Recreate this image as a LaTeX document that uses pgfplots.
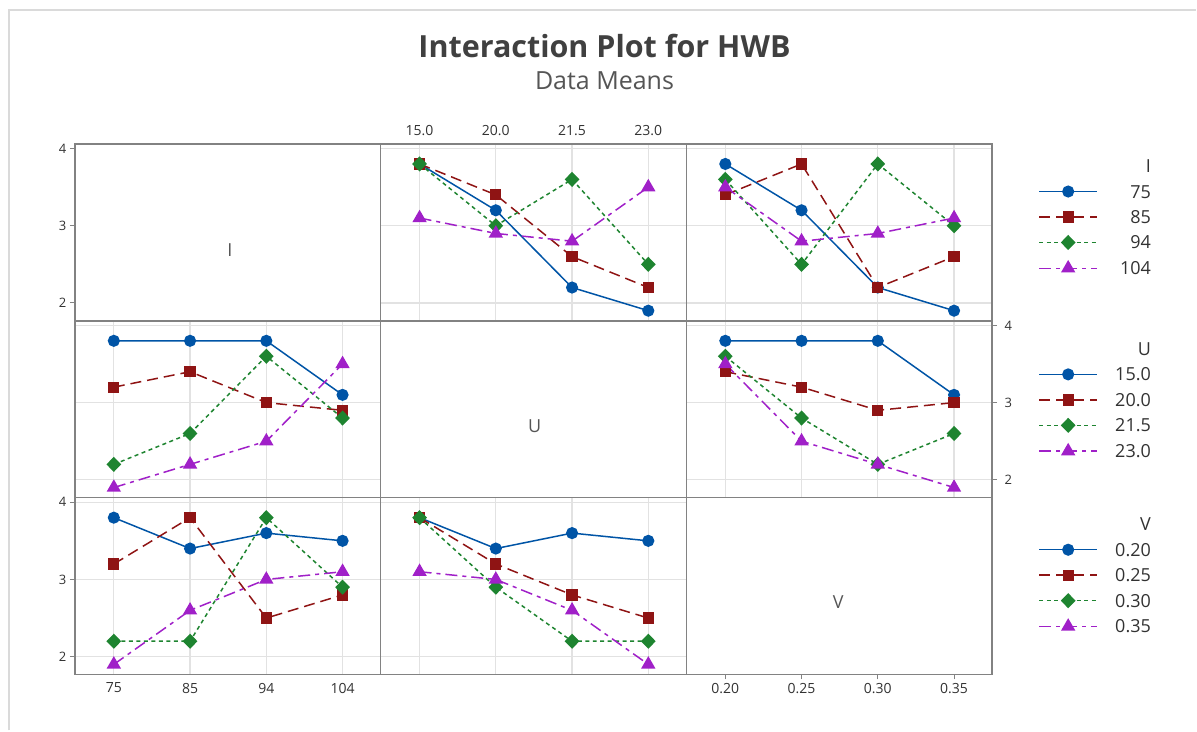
\documentclass[border=0pt]{standalone}
\usepackage{pgfplots}
\usepackage{pgfplotstable}
\pgfplotsset{compat=1.18}
\usepackage{fontspec}
\setmainfont{Open Sans}
\definecolor{cBlue}{RGB}{0,84,166}
\definecolor{cRed}{RGB}{143,20,20}
\definecolor{cGreen}{RGB}{30,132,48}
\definecolor{cPurple}{RGB}{160,32,200}
\definecolor{frameGray}{RGB}{130,130,130}
\definecolor{gridGray}{RGB}{226,226,226}
\definecolor{txtGray}{RGB}{50,50,50}
\definecolor{lblGray}{RGB}{85,85,85}
\definecolor{titleGray}{RGB}{64,64,64}
\definecolor{borderGray}{RGB}{218,218,218}

% x = level index of the horizontal factor; a,b,c,d = levels of the trace factor
\pgfplotstableread{
x a b c d
0 3.8 3.8 3.8 3.1
1 3.2 3.4 3.0 2.9
2 2.2 2.6 3.6 2.8
3 1.9 2.2 2.5 3.5
}\tIonU
\pgfplotstableread{
x a b c d
0 3.8 3.4 3.6 3.5
1 3.2 3.8 2.5 2.8
2 2.2 2.2 3.8 2.9
3 1.9 2.6 3.0 3.1
}\tIonV
\pgfplotstableread{
x a b c d
0 3.8 3.2 2.2 1.9
1 3.8 3.4 2.6 2.2
2 3.8 3.0 3.6 2.5
3 3.1 2.9 2.8 3.5
}\tUonI
\pgfplotstableread{
x a b c d
0 3.8 3.4 3.6 3.5
1 3.8 3.2 2.8 2.5
2 3.8 2.9 2.2 2.2
3 3.1 3.0 2.6 1.9
}\tUonV
\pgfplotstableread{
x a b c d
0 3.8 3.2 2.2 1.9
1 3.4 3.8 2.2 2.6
2 3.6 2.5 3.8 3.0
3 3.5 2.8 2.9 3.1
}\tVonI
\pgfplotstableread{
x a b c d
0 3.8 3.8 3.8 3.1
1 3.4 3.2 2.9 3.0
2 3.6 2.8 2.2 2.6
3 3.5 2.5 2.2 1.9
}\tVonU

\pgfplotsset{
  sA/.style={draw=cBlue, solid, line width=1.5pt, mark=*, mark size=5.3pt, mark options={solid, fill=cBlue, draw=cBlue}},
  sB/.style={draw=cRed, dash pattern=on 11pt off 6pt, line width=1.5pt, mark=square*, mark size=4.9pt, mark options={solid, fill=cRed, draw=cRed}},
  sC/.style={draw=cGreen, dash pattern=on 4pt off 3.5pt, line width=1.5pt, mark=diamond*, mark size=6.5pt, mark options={solid, fill=cGreen, draw=cGreen, xscale=1.3}},
  sD/.style={draw=cPurple, dash pattern=on 12pt off 5pt on 4pt off 5pt, line width=1.5pt, mark=triangle*, mark size=6.8pt, mark options={solid, fill=cPurple, draw=cPurple}},
  panel/.style={
    scale only axis, width=306pt, height=177pt, anchor=south west,
    xmin=-0.51, xmax=3.5, ymin=1.77, ymax=4.06,
    xtick={0,1,2,3}, ytick={2,3,4},
    xticklabels={}, yticklabels={},
    axis line style={draw=frameGray, line width=1.6pt},
    major grid style={draw=gridGray, line width=1.2pt},
    xmajorgrids, ymajorgrids,
    tick align=outside, major tick length=5pt,
    xtick style={draw=none}, ytick style={draw=none},
    xticklabel style={font=\fontsize{14}{16}\selectfont, text=txtGray},
    yticklabel style={font=\fontsize{13}{15}\selectfont, text=txtGray},
    clip=false,
  },
  nogrid/.style={xmajorgrids=false, ymajorgrids=false},
  leftlab/.style={ytick pos=left, yticklabels={2,3,4}, ytick style={draw=frameGray, line width=1pt}},
  legax/.style={
    at={(0pt,0pt)}, anchor=south west, scale only axis, width=1197pt, height=731pt,
    xmin=0, xmax=1, ymin=0, ymax=1, hide axis,
    legend image code/.code={\draw[mark repeat=2,mark phase=2,##1] plot coordinates {(0pt,0pt) (29pt,0pt) (58pt,0pt)};},
    legend style={draw=none, fill=none, anchor=north east, inner sep=0pt,
      row sep=12.5pt, column sep=8pt,
      font=\fontsize{18}{20}\selectfont,
      nodes={inner sep=0pt, text height=13pt, text depth=0pt, text=txtGray}},
  },
}

\newcommand{\fourlines}[1]{%
  \addplot[sA] table[x=x,y=a] {#1};
  \addplot[sB] table[x=x,y=b] {#1};
  \addplot[sC] table[x=x,y=c] {#1};
  \addplot[sD] table[x=x,y=d] {#1};
}

\begin{document}
\begin{tikzpicture}[x=1pt,y=1pt]
\path (0,0) rectangle (1197,731);
\draw[borderGray, line width=2pt] (9,0) -- (9,721) -- (1197,721);

\node[font=\fontsize{30.5}{34}\selectfont\bfseries, text=titleGray, anchor=base] at (605,673) {Interaction Plot for HWB};
\node[font=\fontsize{25}{28}\selectfont, text=lblGray, anchor=base] at (605,641) {Data Means};

% Row 1
\begin{axis}[panel, nogrid, leftlab, at={(75pt,410pt)}]
\end{axis}
\begin{axis}[panel, at={(381pt,410pt)}, xticklabel pos=upper, xticklabels={15.0,20.0,21.5,23.0}]
\fourlines{\tIonU}
\end{axis}
\begin{axis}[panel, at={(687pt,410pt)}]
\fourlines{\tIonV}
\end{axis}

% Row 2
\begin{axis}[panel, at={(75pt,233pt)}]
\fourlines{\tUonI}
\end{axis}
\begin{axis}[panel, nogrid, at={(381pt,233pt)}]
\end{axis}
\begin{axis}[panel, at={(687pt,233pt)}, ytick pos=right, yticklabel pos=right, yticklabels={2,3,4},
  ytick style={draw=frameGray, line width=1pt}, yticklabel style={xshift=4pt}]
\fourlines{\tUonV}
\end{axis}

% Row 3
\begin{axis}[panel, leftlab, at={(75pt,56pt)}, xticklabels={75,85,94,104}]
\fourlines{\tVonI}
\end{axis}
\begin{axis}[panel, at={(381pt,56pt)}]
\fourlines{\tVonU}
\end{axis}
\begin{axis}[panel, nogrid, at={(687pt,56pt)}, xtick pos=lower, xticklabels={0.20,0.25,0.30,0.35},
  xtick style={draw=frameGray, line width=1pt}]
\end{axis}

\node[font=\fontsize{18}{20}\selectfont, text=lblGray] at (230,481) {I};
\node[font=\fontsize{18}{20}\selectfont, text=lblGray] at (535,304) {U};
\node[font=\fontsize{18}{20}\selectfont, text=lblGray] at (839,128) {V};

% Legends
\begin{axis}[legax, legend style={at={(0.96241,0.78181)}}]
\addlegendimage{empty legend}\addlegendentry{\makebox[45pt][r]{I}}
\addlegendimage{sA}\addlegendentry{\makebox[45pt][r]{75}}
\addlegendimage{sB}\addlegendentry{\makebox[45pt][r]{85}}
\addlegendimage{sC}\addlegendentry{\makebox[45pt][r]{94}}
\addlegendimage{sD}\addlegendentry{\makebox[45pt][r]{104}}
\end{axis}
\begin{axis}[legax, legend style={at={(0.96241,0.53147)}}]
\addlegendimage{empty legend}\addlegendentry{\makebox[45pt][r]{U}}
\addlegendimage{sA}\addlegendentry{\makebox[45pt][r]{15.0}}
\addlegendimage{sB}\addlegendentry{\makebox[45pt][r]{20.0}}
\addlegendimage{sC}\addlegendentry{\makebox[45pt][r]{21.5}}
\addlegendimage{sD}\addlegendentry{\makebox[45pt][r]{23.0}}
\end{axis}
\begin{axis}[legax, legend style={at={(0.96241,0.29139)}}]
\addlegendimage{empty legend}\addlegendentry{\makebox[45pt][r]{V}}
\addlegendimage{sA}\addlegendentry{\makebox[45pt][r]{0.20}}
\addlegendimage{sB}\addlegendentry{\makebox[45pt][r]{0.25}}
\addlegendimage{sC}\addlegendentry{\makebox[45pt][r]{0.30}}
\addlegendimage{sD}\addlegendentry{\makebox[45pt][r]{0.35}}
\end{axis}
\end{tikzpicture}
\end{document}
